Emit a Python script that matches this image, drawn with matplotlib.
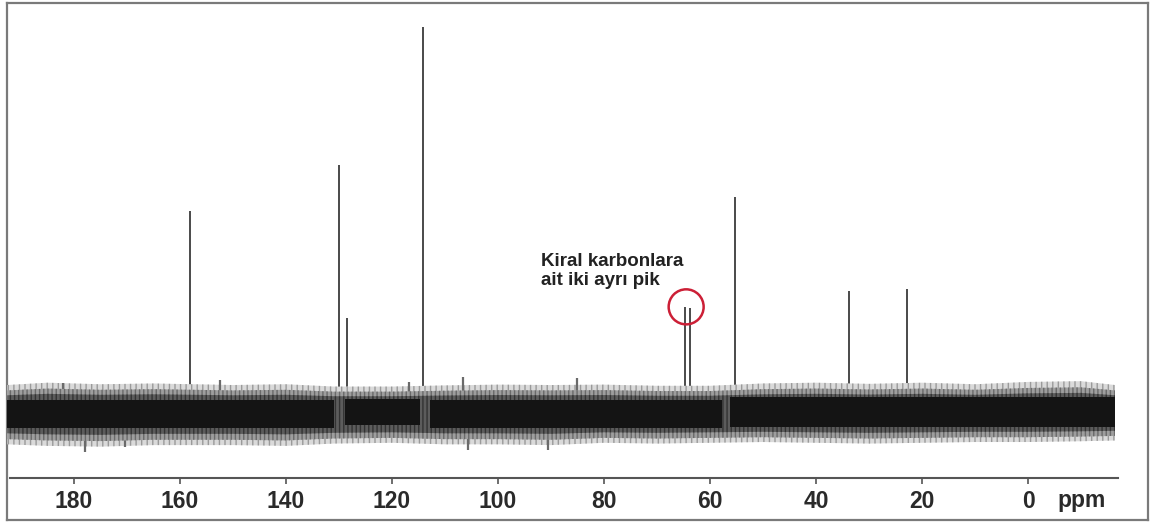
import matplotlib
matplotlib.use("Agg")
import matplotlib.pyplot as plt
from matplotlib.patches import Ellipse

plt.rcParams['font.family'] = ['Liberation Sans', 'DejaVu Sans']
plt.rcParams['hatch.linewidth'] = 1.0

# 13C NMR signals: chemical shift (ppm) and relative intensity
peak_ppm = [158.1, 130.0, 128.5, 114.2, 64.7, 63.8, 55.3, 33.8, 22.8]
peak_height = [52.2, 64.2, 24.4, 100.0, 27.3, 27.0, 55.8, 31.4, 32.0]

# baseline noise: envelope of the noise band
noise_ppm = [192.6, 185, 175, 165, 150, 140, 131, 120, 110, 100, 90, 80, 70,
             60, 50, 40, 30, 20, 10, 0, -10, -16.4]
noise_upper = [7.0, 7.6, 7.2, 7.4, 7.0, 7.2, 6.6, 6.6, 6.9, 7.1, 7.0, 7.1, 6.8,
               6.8, 7.4, 7.6, 7.3, 7.6, 7.2, 7.8, 8.0, 7.0]
noise_lower = [-8.4, -8.8, -9.0, -8.6, -8.6, -8.8, -8.2, -8.0, -8.4, -8.4, -8.6,
               -8.0, -8.2, -8.0, -7.8, -8.0, -8.2, -8.0, -7.8, -7.8, -7.6, -7.4]
# dense core of the noise, split where strong signals interrupt it
core_start = [192.6, 128.9, 112.8, 56.2]
core_end = [130.9, 114.7, 57.7, -16.4]
core_top = [3.1, 3.4, 3.1, 3.9]
core_bottom = [-4.2, -3.4, -4.2, -3.9]
# the tallest individual noise spikes
spike_ppm = [182.0, 152.5, 116.8, 106.6, 85.1, 178.0, 170.4, 105.7, 90.6]
spike_tip = [7.5, 8.3, 7.8, 9.1, 8.8, -10.4, -9.1, -9.9, -9.9]

tick_values = [180, 160, 140, 120, 100, 80, 60, 40, 20, 0]
annotation = "Kiral karbonlara\nait iki ayrı pik"

W, H = 1150, 525
fig = plt.figure(figsize=(W / 100, H / 100), dpi=100)
ax = fig.add_axes([7 / W, (H - 520) / H, (1148 - 7) / W, (520 - 3) / H])
ax.set_xlim(192.64, -22.64)
ax.set_ylim(-28.05, 106.2)
ax.set_xticks([])
ax.set_yticks([])
for s in ax.spines.values():
    s.set_color('#7a7a7a')
    s.set_linewidth(1.6)

# signals
for p, h in zip(peak_ppm, peak_height):
    ax.vlines(p, -6, h, color='#4a4a4a', lw=1.4, zorder=2)

# noise band: graded fringe layers around a dense core
ax.fill_between(noise_ppm, noise_lower, noise_upper, facecolor='#dadada',
                edgecolor='#9a9a9a', hatch='|||', lw=0, zorder=3)
mid_up = [u * 0.8 for u in noise_upper]
mid_lo = [l * 0.84 for l in noise_lower]
ax.fill_between(noise_ppm, mid_lo, mid_up, facecolor='#9e9e9e',
                edgecolor='#6a6a6a', hatch='||||', lw=0, zorder=4)
in_up = [u * 0.62 for u in noise_upper]
in_lo = [l * 0.66 for l in noise_lower]
ax.fill_between(noise_ppm, in_lo, in_up, facecolor='#5c5c5c',
                edgecolor='#333333', hatch='||||', lw=0, zorder=4)
for a, b, t, bt in zip(core_start, core_end, core_top, core_bottom):
    ax.fill_between([a, b], [bt, bt], [t, t], color='#141414', lw=0, zorder=5)
ax.vlines(spike_ppm, 0, spike_tip, color='#6a6a6a', lw=1.6, zorder=3)

# annotation for the chiral carbons
ax.text(91.9, 33.0, annotation, fontsize=13.5, fontweight='bold', color='#222222',
        va='baseline', ha='left', linespacing=1.12, zorder=6)
ax.add_patch(Ellipse((64.5, 27.3), 6.6, 9.1, fill=False, ec='#cc1f36', lw=1.8, zorder=6))

# ppm scale
ax2 = fig.add_axes([7 / W, (H - 478) / H, (1148 - 7) / W, 0.001])
ax2.set_xlim(192.64, -22.64)
ax2.patch.set_alpha(0)
for k in ('top', 'left', 'right'):
    ax2.spines[k].set_visible(False)
ax2.spines['bottom'].set_bounds(192.0, -17.0)
ax2.spines['bottom'].set_color('#555555')
ax2.spines['bottom'].set_linewidth(1.5)
ax2.set_yticks([])
ax2.set_xticks(tick_values)
ax2.set_xticklabels([str(v) for v in tick_values])
ax2.tick_params(axis='x', direction='out', length=4, width=1.2, color='#555555',
                pad=5, labelsize=16.5, labelcolor='#2a2a2a')
for lab in ax2.get_xticklabels():
    lab.set_fontweight('bold')
fig.text(1082 / W, (H - 500) / H, 'ppm', fontsize=16.5, fontweight='bold',
         color='#2a2a2a', ha='center', va='center')

fig.savefig('out.png', dpi=100, facecolor='white')
